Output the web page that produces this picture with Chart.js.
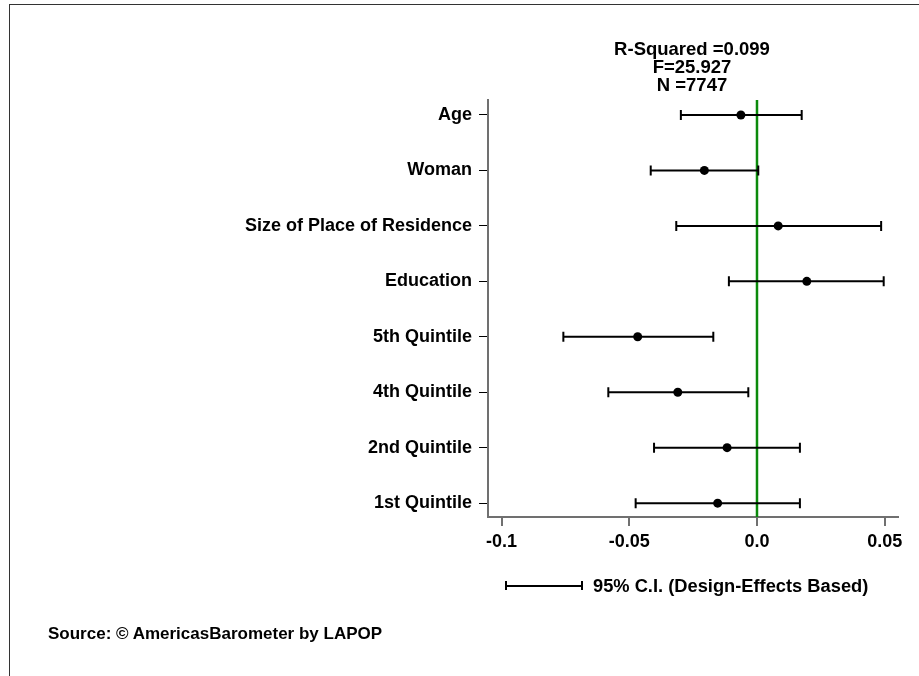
<!DOCTYPE html>
<html>
<head>
<meta charset="utf-8">
<script src="https://cdn.jsdelivr.net/npm/chart.js@4.4.1/dist/chart.umd.min.js"></script>
<style>
  html, body { margin: 0; padding: 0; background: #fff; }
  body { width: 919px; height: 676px; position: relative; overflow: hidden; font-family: "Liberation Sans", Arial, sans-serif; font-weight: bold; color: #000; }
  #frame { position: absolute; left: 9px; top: 4px; width: 940px; height: 700px; border-left: 1px solid #333; border-top: 1px solid #333; }
  #wrap { position: absolute; left: 0; top: 0; width: 919px; height: 676px; }
  #stats { position: absolute; left: 592px; width: 200px; top: 40px; text-align: center; font-size: 18.5px; line-height: 18px; }
  #legendLine { position: absolute; left: 505px; top: 581px; width: 74px; height: 9px; border-left: 2px solid #000; border-right: 2px solid #000; }
  #legendLine::after { content: ""; position: absolute; left: 0; right: 0; top: 4px; border-top: 2px solid #000; }
  #legendText { position: absolute; left: 593px; top: 575px; font-size: 18.3px; line-height: 21px; }
  #source { position: absolute; left: 48px; top: 624px; font-size: 17px; line-height: 20px; }
</style>
</head>
<body>
<div id="frame"></div>
<div id="wrap"><canvas id="coefChart" width="919" height="676"></canvas></div>
<div id="stats">R-Squared =0.099<br>F=25.927<br>N =7747</div>
<div id="legendLine"></div>
<div id="legendText">95% C.I. (Design-Effects Based)</div>
<div id="source">Source: © AmericasBarometer by LAPOP</div>
<script>
// regression coefficients with 95% confidence bounds, top row first
const categories = ["Age", "Woman", "Size of Place of Residence", "Education", "5th Quintile", "4th Quintile", "2nd Quintile", "1st Quintile"];
const coefs = [-0.0063, -0.0206, 0.0083, 0.0195, -0.0467, -0.0310, -0.0117, -0.0154];
const lowerCI = [-0.0298, -0.0416, -0.0316, -0.0110, -0.0758, -0.0582, -0.0403, -0.0475];
const upperCI = [0.0175, 0.0005, 0.0486, 0.0496, -0.0171, -0.0034, 0.0168, 0.0168];
const xTicks = [-0.1, -0.05, 0, 0.05];
const xTickLabels = ["-0.1", "-0.05", "0.0", "0.05"];

const font = { family: "'Liberation Sans', Arial, sans-serif", size: 18, weight: "bold" };

// zero reference line and the CI whiskers
const ciPlugin = {
  id: "ciBars",
  beforeDatasetsDraw(chart) {
    const { ctx, chartArea, scales: { x } } = chart;
    const zx = x.getPixelForValue(0);
    ctx.save();
    ctx.strokeStyle = "#0b8a0b"; ctx.lineWidth = 2.5;
    ctx.beginPath(); ctx.moveTo(zx, chartArea.top); ctx.lineTo(zx, chartArea.bottom); ctx.stroke();
    ctx.strokeStyle = "#000"; ctx.lineWidth = 2;
    categories.forEach((c, i) => {
      const py = chart.scales.y.getPixelForValue(i);
      const x1 = x.getPixelForValue(lowerCI[i]), x2 = x.getPixelForValue(upperCI[i]);
      ctx.beginPath();
      ctx.moveTo(x1, py); ctx.lineTo(x2, py);
      ctx.moveTo(x1, py - 5); ctx.lineTo(x1, py + 5);
      ctx.moveTo(x2, py - 5); ctx.lineTo(x2, py + 5);
      ctx.stroke();
    });
    ctx.restore();
  }
};

new Chart(document.getElementById("coefChart"), {
  type: "scatter",
  data: {
    datasets: [{
      data: coefs.map((v, i) => ({ x: v, y: i })),
      pointRadius: 4.5, pointBackgroundColor: "#000", pointBorderWidth: 0, showLine: false
    }]
  },
  options: {
    responsive: false, animation: false,
    layout: { padding: { top: 100, right: 21, left: 0, bottom: 0 } },
    plugins: { legend: { display: false }, tooltip: { enabled: false } },
    scales: {
      x: {
        type: "linear", min: -0.1053, max: 0.0552,
        afterBuildTicks: s => { s.ticks = xTicks.map(v => ({ value: v })); },
        afterFit: s => { s.height = 159; },
        ticks: { font, color: "#000", padding: 5, maxRotation: 0, callback: (v, i) => xTickLabels[i] },
        grid: { drawOnChartArea: false, tickLength: 9, color: "#707070", lineWidth: 2 },
        border: { color: "#707070", width: 2 }
      },
      y: {
        type: "linear", reverse: true, min: -0.27, max: 7.25,
        afterBuildTicks: s => { s.ticks = categories.map((c, i) => ({ value: i })); },
        afterFit: s => { s.width = 488; },
        ticks: { font, color: "#000", padding: 7, callback: v => categories[v] },
        grid: { drawOnChartArea: false, tickLength: 9, color: "#000", lineWidth: 1 },
        border: { color: "#707070", width: 2 }
      }
    }
  },
  plugins: [ciPlugin]
});
</script>
</body>
</html>
